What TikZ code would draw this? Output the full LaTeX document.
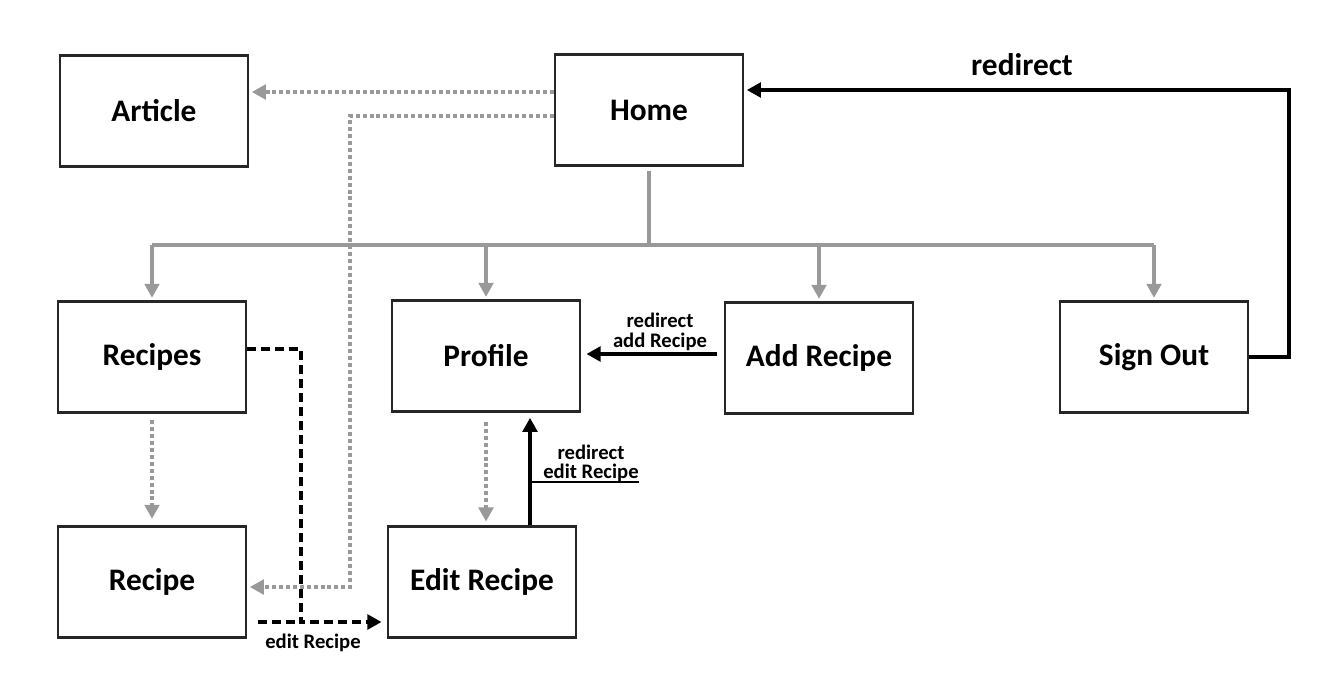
\documentclass[tikz,border=0pt]{standalone}
\usepackage{fontspec}
\setmainfont{Carlito}
\usetikzlibrary{arrows.meta,positioning}

\begin{document}
\begin{tikzpicture}[x=0.75pt,y=-0.75pt,>={Triangle[width=11pt,length=10.5pt]},
    page node/.style={draw=black!85,line width=1.8pt,minimum width=141pt,minimum height=83pt,inner sep=0pt,font=\bfseries\fontsize{23.5}{26}\selectfont},
    tree line/.style={draw=black!40,line width=2.4pt},
    link line/.style={draw=black!40,line width=2.4pt,dash pattern=on 3pt off 2.2pt},
    edit line/.style={draw=black,line width=2.5pt,dash pattern=on 6.8pt off 3.7pt},
    redirect line/.style={draw=black,line width=2.5pt},
    small label/.style={font=\bfseries\fontsize{15.5}{14.5}\selectfont,align=center,inner sep=0pt}]

    \useasboundingbox (0,0) rectangle (1333,686);

    % pages
    \node[page node] (article) at (154,111) {Article};
    \node[page node] (home) at (649,110) {Home};
    \node[page node] (recipes) at (152,357) {Recipes};
    \node[page node] (profile) at (486,356) {Profile};
    \node[page node] (addrecipe) at (819,358) {Add Recipe};
    \node[page node] (signout) at (1154,357) {Sign Out};
    \node[page node] (recipe) at (152,582) {Recipe};
    \node[page node] (editrecipe) at (482,582) {Edit Recipe};

    % menu from home
    \coordinate (bus) at (649,245);
    \draw[tree line,shorten <=3pt] (home) -- (bus);
    \draw[tree line] (recipes.north |- bus) -- (signout.north |- bus);
    \foreach \page in {recipes,profile,addrecipe,signout}{
        \draw[tree line,->,color=black!40,shorten >=2pt] (\page.north |- bus) -- (\page.north);
    }

    % links
    \coordinate (hometop) at (home.west |- 0,92);
    \coordinate (homelow) at (home.west |- 0,116);
    \coordinate (linkturn) at (350,587);
    \draw[link line,->,color=black!40,shorten >=2pt] (hometop) -- (hometop -| article.east);
    \draw[link line,->,color=black!40,shorten >=2pt] (homelow) -| (linkturn) -- (linkturn -| recipe.east);
    \draw[link line,->,color=black!40,shorten <=5pt,shorten >=5pt] (recipes) -- (recipe);
    \draw[link line,->,color=black!40,shorten <=7pt,shorten >=3pt] (profile.south) -- (profile.south |- editrecipe.north);

    % edit recipe
    \coordinate (recipesout) at (recipes.east |- 0,349);
    \coordinate (editturn) at (301,622);
    \draw[edit line,->,shorten >=4pt] (recipesout) -| (editturn) -- (editturn -| editrecipe.west);
    \draw[edit line,shorten <=8pt] (editturn -| recipe.east) -- (editturn);
    \node[small label] (editnote) at (313,643) {edit Recipe};

    % redirects
    \coordinate (editup) at ([xshift=36pt]editrecipe.north);
    \draw[redirect line,->,shorten >=4pt] (editup) -- (editup |- profile.south);
    \node[small label,anchor=south] (editback) at (591,482) {redirect\\edit Recipe};
    \draw[redirect line,line width=2.2pt] (editup |- editback.south) -- (editback.south east);

    \coordinate (addleft) at (addrecipe.west |- 0,354);
    \draw[redirect line,->,shorten <=5pt,shorten >=4pt] (addleft) -- (addleft -| profile.east);
    \node[small label] (addback) at (660,332) {redirect\\add Recipe};

    \coordinate (loopcorner) at (1289,90);
    \draw[redirect line,->,shorten >=2pt] (signout.east) -| (loopcorner) -- (loopcorner -| home.east);
    \node[font=\bfseries\fontsize{23.5}{24}\selectfont] (signback) at (1022,65) {redirect};

\end{tikzpicture}
\end{document}
